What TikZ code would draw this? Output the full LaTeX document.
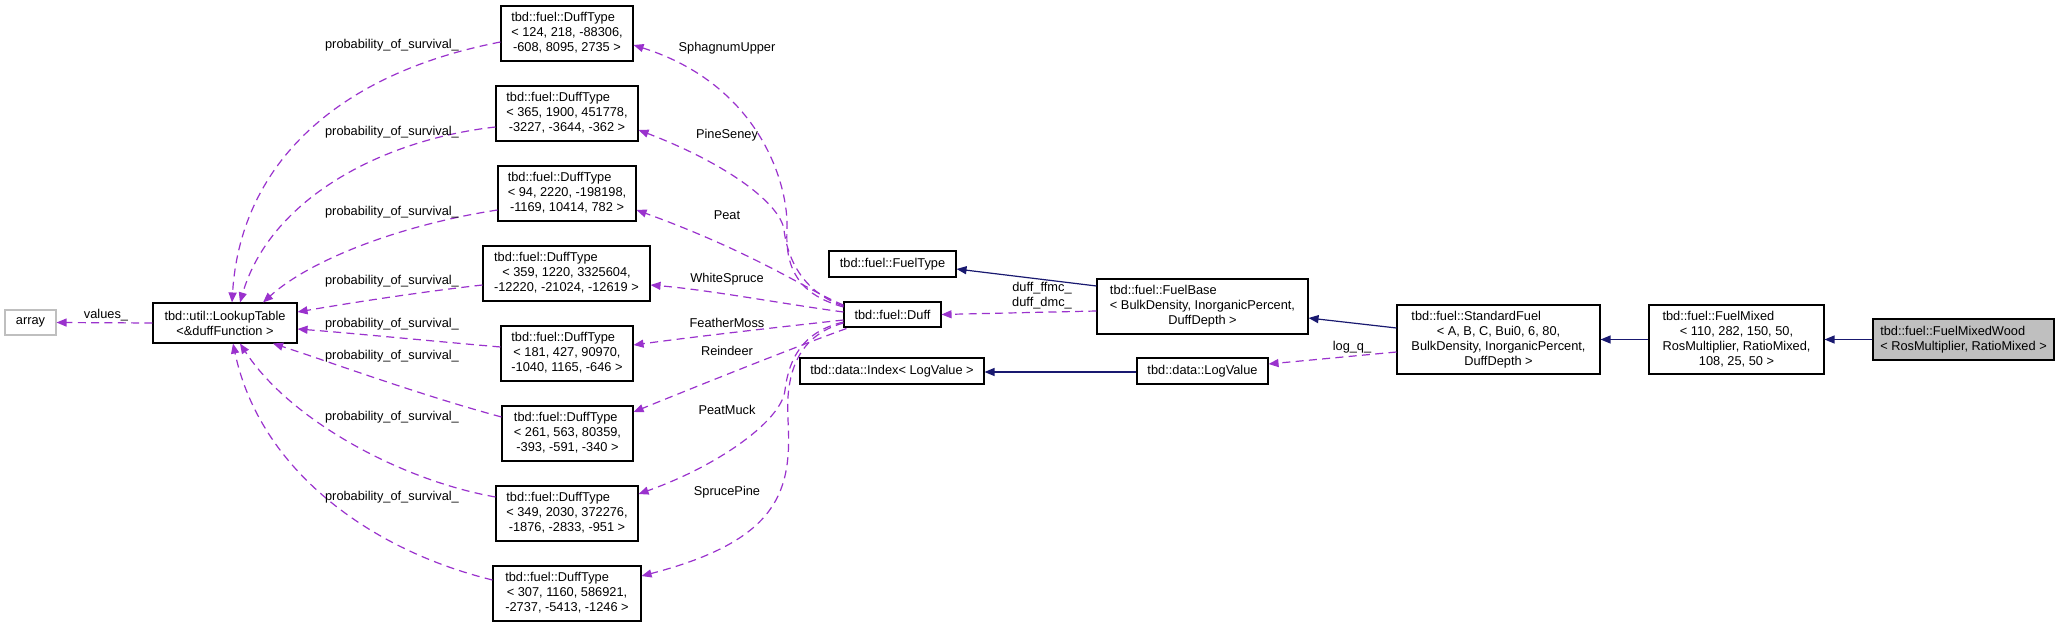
\documentclass[tikz,border=0pt]{standalone}
\usepackage{fontspec}
\setmainfont{Liberation Sans}
\usetikzlibrary{arrows.meta,calc}
\definecolor{dpurple}{HTML}{9A32CD}
\definecolor{dnavy}{HTML}{191970}
\definecolor{boxgray}{HTML}{BFBFBF}
\newcommand{\dfont}{\fontsize{9.6}{11.25}\selectfont}
\newcommand{\cltext}[2]{\begin{tabular}{@{}c@{}}\multicolumn{1}{@{}l@{}}{#1}\\#2\end{tabular}}
\tikzset{
  cbox/.style={draw=black, line width=0.8pt, inner sep=0pt, font=\dfont, align=center},
  elabel/.style={font=\dfont, inner sep=0pt, align=center},
  dep/.style={draw=dpurple, line width=0.9pt, dash pattern=on 6pt off 4pt,
    -{Triangle[length=7.5pt,width=6pt,fill=dpurple]}},
  inh/.style={draw=dnavy, line width=0.9pt,
    -{Triangle[length=7.5pt,width=6pt,fill=dnavy]}}
}
\begin{document}
\begin{tikzpicture}[x=0.75pt,y=-0.75pt]
\fill[white] (0,0) rectangle (2069,627);
\useasboundingbox (0,0) rectangle (2069,627);

% nodes
\node[cbox, draw=boxgray, minimum width=38.25pt, minimum height=18.75pt] (arr) at (30.5,322.5) {array};
\node[cbox, minimum width=108pt, minimum height=30pt] (lt) at (225,323)
  {tbd::util::LookupTable\\<\&duffFunction >};
\node[cbox, minimum width=99pt, minimum height=41.25pt] (d1) at (567,33.5)
  {\cltext{tbd::fuel::DuffType}{< 124, 218, -88306,\\-608, 8095, 2735 >}};
\node[cbox, minimum width=106.5pt, minimum height=41.25pt] (d2) at (567,113.5)
  {\cltext{tbd::fuel::DuffType}{< 365, 1900, 451778,\\-3227, -3644, -362 >}};
\node[cbox, minimum width=103.5pt, minimum height=41.25pt] (d3) at (567,193.5)
  {\cltext{tbd::fuel::DuffType}{< 94, 2220, -198198,\\-1169, 10414, 782 >}};
\node[cbox, minimum width=125.25pt, minimum height=41.25pt] (d4) at (566.5,273.5)
  {\cltext{tbd::fuel::DuffType}{< 359, 1220, 3325604,\\-12220, -21024, -12619 >}};
\node[cbox, minimum width=99pt, minimum height=41.25pt] (d5) at (567,353.5)
  {\cltext{tbd::fuel::DuffType}{< 181, 427, 90970,\\-1040, 1165, -646 >}};
\node[cbox, minimum width=98.25pt, minimum height=41.25pt] (d6) at (567.5,433.5)
  {\cltext{tbd::fuel::DuffType}{< 261, 563, 80359,\\-393, -591, -340 >}};
\node[cbox, minimum width=106.5pt, minimum height=41.25pt] (d7) at (567,513.5)
  {\cltext{tbd::fuel::DuffType}{< 349, 2030, 372276,\\-1876, -2833, -951 >}};
\node[cbox, minimum width=111pt, minimum height=41.25pt] (d8) at (567,593.5)
  {\cltext{tbd::fuel::DuffType}{< 307, 1160, 586921,\\-2737, -5413, -1246 >}};
\node[cbox, minimum width=72.75pt, minimum height=18.75pt] (duff) at (892.5,314.5) {tbd::fuel::Duff};
\node[cbox, minimum width=95.25pt, minimum height=19.5pt] (ft) at (892.5,264) {tbd::fuel::FuelType};
\node[cbox, minimum width=158.25pt, minimum height=41.25pt] (fb) at (1202.5,306.5)
  {\cltext{tbd::fuel::FuelBase}{< BulkDensity, InorganicPercent,\\DuffDepth >}};
\node[cbox, minimum width=138pt, minimum height=19.5pt] (idx) at (892,371) {tbd::data::Index< LogValue >};
\node[cbox, minimum width=98.25pt, minimum height=19.5pt] (lv) at (1202.5,371) {tbd::data::LogValue};
\node[cbox, minimum width=152.25pt, minimum height=51.75pt] (sf) at (1498.5,339.5)
  {\cltext{tbd::fuel::StandardFuel}{< A, B, C, Bui0, 6, 80,\\BulkDensity, InorganicPercent,\\DuffDepth >}};
\node[cbox, minimum width=131.25pt, minimum height=51.75pt] (fm) at (1736.5,339.5)
  {\cltext{tbd::fuel::FuelMixed}{< 110, 282, 150, 50,\\RosMultiplier, RatioMixed,\\108, 25, 50 >}};
\node[cbox, fill=boxgray, minimum width=135.75pt, minimum height=30.75pt] (fmw) at (1963.5,339.5)
  {\cltext{tbd::fuel::FuelMixedWood}{< RosMultiplier, RatioMixed >}};

% LookupTable -> array
\draw[dep] (lt.west) -- (arr.east);
\node[elabel] (lvalues) at (106,315) {values\_};

% DuffType -> LookupTable
\draw[dep] ($(d1.west)+(0,8.5)$) .. controls (330,75) and (240,170) .. ($(lt.north)+(7,0)$);
\draw[dep] ($(d2.west)+(0,13.5)$) .. controls (380,140) and (270,200) .. ($(lt.north)+(15,0)$);
\draw[dep] ($(d3.west)+(0,16.5)$) .. controls (400,225) and (310,260) .. ($(lt.north)+(38,0)$);
\draw[dep] ($(d4.west)+(0,11.5)$) .. controls (420,292) and (350,303) .. ($(lt.east)+(0,-11)$);
\draw[dep] ($(d5.west)+(0,-6.5)$) .. controls (420,340) and (350,333) .. ($(lt.east)+(0,6)$);
\draw[dep] ($(d6.west)+(0,-16.5)$) .. controls (420,395) and (330,362) .. ($(lt.south)+(48,0)$);
\draw[dep] ($(d7.west)+(0,-16.5)$) .. controls (400,480) and (290,420) .. ($(lt.south)+(15,0)$);
\draw[dep] ($(d8.west)+(0,-13.5)$) .. controls (370,550) and (260,470) .. ($(lt.south)+(8,0)$);
\foreach \yy/\nm in {45/p1,132/p2,212/p3,281/p4,324/p5,356/p6,417/p7,497/p8}
  \node[elabel] (\nm) at (392,\yy) {probability\_of\_survival\_};

% Duff -> DuffType
\draw[dep] ($(duff.west)+(0,-7.5)$) .. controls (800,295) and (785,270) .. (787,230)
  .. controls (789,185) and (760,85) .. ($(d1.east)+(0,11.5)$);
\draw[dep] ($(duff.west)+(0,-8.5)$) .. controls (805,293) and (788,262) .. (784,230)
  .. controls (781,205) and (730,165) .. ($(d2.east)+(0,16.5)$);
\draw[dep] ($(duff.west)+(0,-9.5)$) .. controls (810,292) and (760,255) .. ($(d3.east)+(0,16.5)$);
\draw[dep] ($(duff.west)+(0,-2.5)$) .. controls (790,305) and (710,290) .. ($(d4.east)+(0,11.5)$);
\draw[dep] ($(duff.west)+(0,5.5)$) .. controls (780,327) and (700,336) .. ($(d5.east)+(0,-8.5)$);
\draw[dep] ($(duff.south west)+(3,1)$) .. controls (800,345) and (700,385) .. ($(d6.east)+(0,-21.5)$);
\draw[dep] ($(duff.west)+(0,7.5)$) .. controls (810,330) and (790,350) .. (785,390)
  .. controls (782,420) and (720,465) .. ($(d7.east)+(0,-19.5)$);
\draw[dep] ($(duff.west)+(0,8.5)$) .. controls (800,335) and (785,370) .. (788,420)
  .. controls (792,490) and (780,540) .. ($(d8.east)+(0,-17.5)$);
\node[elabel] (lsph) at (727,48) {SphagnumUpper};
\node[elabel] (lpin) at (727,135) {PineSeney};
\node[elabel] (lpea) at (727,215) {Peat};
\node[elabel] (lwhi) at (727,279) {WhiteSpruce};
\node[elabel] (lfea) at (727,323) {FeatherMoss};
\node[elabel] (lrei) at (727,351) {Reindeer};
\node[elabel] (lpmu) at (727,410) {PeatMuck};
\node[elabel] (lspr) at (727,492) {SprucePine};

% FuelBase relations
\draw[dep] ($(fb.west)+(0,4.5)$) -- (duff.east);
\node[elabel] (lduff) at (1042,296) {duff\_ffmc\_\\duff\_dmc\_};
\draw[inh] ($(fb.west)+(0,-20.5)$) -- ($(ft.east)+(0,5)$);
\draw[inh] ($(sf.west)+(0,-11.5)$) -- ($(fb.east)+(0,11.5)$);
\draw[dep] ($(sf.west)+(0,12.5)$) -- ($(lv.east)+(0,-7)$);
\node[elabel] (llogq) at (1352,347) {log\_q\_};
\draw[inh] ($(lv.west)+(0,1)$) -- ($(idx.east)+(0,1)$);
\draw[inh] (fm.west) -- (sf.east);
\draw[inh] (fmw.west) -- (fm.east);
\end{tikzpicture}
\end{document}
